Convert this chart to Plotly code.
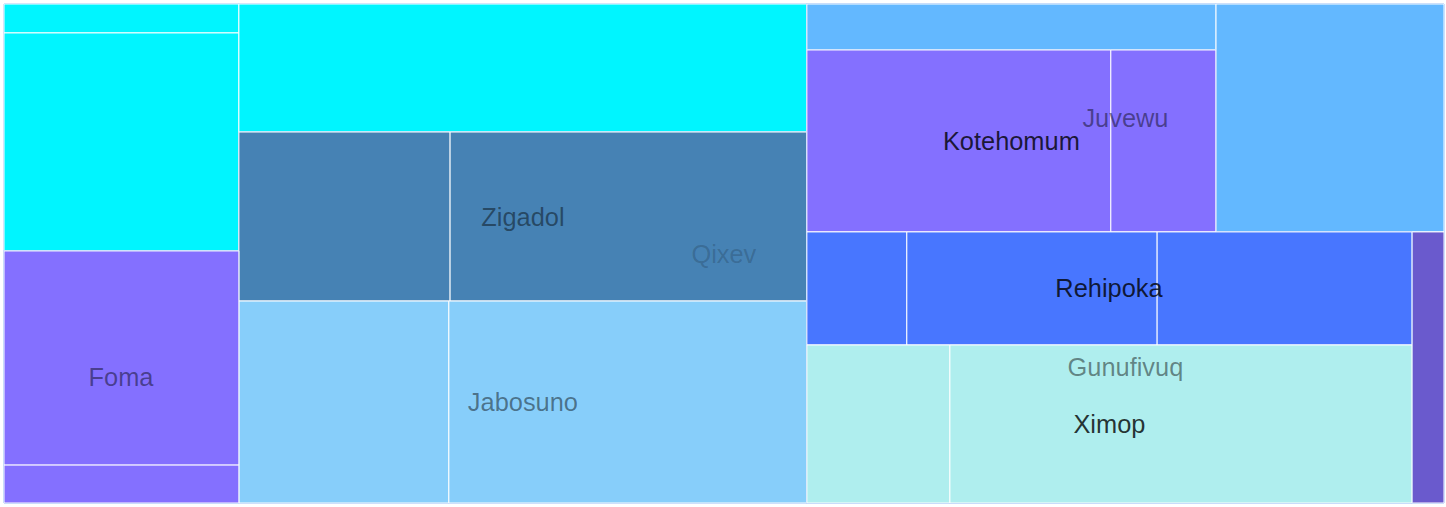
import plotly.graph_objects as go

# ---------------- data ----------------
# hierarchy (ids / parents); unnamed ids are layout groups without a label
ids = ["Qixev", "left", "middle", "right",
       "r1", "r2", "Foma", "Foma/", "Foma-1", "Foma-2",
       "r3", "Zigadol", "Zigadol-1", "Zigadol-2",
       "Jabosuno", "Jabosuno-1", "Jabosuno-2",
       "Juvewu", "Juvewu/", "Juvewu-1", "Kotehomum", "Kotehomum-1", "Kotehomum-2", "Juvewu-2",
       "Gunufivuq", "Gunufivuq/", "Rehipoka", "Rehipoka-1", "Rehipoka-2", "Rehipoka-3",
       "Ximop", "Ximop-1", "Ximop-2", "Gunufivuq-1"]
parents = ["", "Qixev", "Qixev", "Qixev",
           "left", "left", "left", "Foma", "Foma/", "Foma/",
           "middle", "middle", "Zigadol", "Zigadol",
           "middle", "Jabosuno", "Jabosuno",
           "right", "Juvewu", "Juvewu/", "Juvewu/", "Kotehomum", "Kotehomum", "Juvewu",
           "right", "Gunufivuq", "Gunufivuq/", "Rehipoka", "Rehipoka", "Rehipoka",
           "Gunufivuq/", "Ximop", "Ximop", "Gunufivuq"]
values = [0, 0, 0, 0,
          68, 512, 0, 0, 503, 89,
          727, 0, 357, 603,
          0, 424, 723,
          0, 0, 188, 0, 553, 191, 520,
          0, 0, 0, 113, 283, 288,
          0, 226, 730, 87]

root_label = ["Qixev"]
top_labels = ["Foma", "Zigadol", "Jabosuno", "Juvewu", "Gunufivuq"]
sub_labels = ["Kotehomum", "Rehipoka", "Ximop"]

group_colors = {"Qixev": "#00F5FF", "Foma": "#8470FF", "Zigadol": "#4682B4",
                "Jabosuno": "#87CEFA", "Juvewu": "#63B8FF", "Kotehomum": "#8470FF",
                "Rehipoka": "#4876FF", "Ximop": "#AFEEEE", "Gunufivuq": "#6A5ACD"}

# ---------------- derived ----------------
named = set(root_label + top_labels + sub_labels)
parent_of = dict(zip(ids, parents))
labels = [i if i in named else "" for i in ids]
has_children = set(p for p in parents if p)


def named_ancestor(i):
    while i not in named:
        i = parent_of[i]
    return i


fill = [group_colors[named_ancestor(i)] for i in ids]
line_col = ["#FFFFFF" if i not in has_children else "#8DB6F5" for i in ids]
line_w = [1 for _ in ids]

FONT = "Liberation Sans, Arial, sans-serif"
clear = ["rgba(0,0,0,0)"] * len(ids)


def treemap(text, colors, lcol, lw, maxdepth=-1, tcolor="rgba(0,0,0,0.8)", hover=True):
    return go.Treemap(
        ids=ids, labels=labels, parents=parents, values=values,
        branchvalues="remainder", sort=False, maxdepth=maxdepth,
        tiling=dict(packing="slice-dice", pad=0),
        marker=dict(colors=colors, line=dict(color=lcol, width=lw),
                    pad=dict(t=0, l=0, r=0, b=0), depthfade=False),
        pathbar=dict(visible=False),
        text=text, textinfo="text", texttemplate="%{text}",
        textposition="middle center",
        textfont=dict(family=FONT, size=25.4, color=tcolor),
        hoverinfo="label+value" if hover else "skip",
        domain=dict(x=[0, 1], y=[0, 1]),
    )


main = treemap(["" for _ in ids], fill, line_col, line_w)
lab0 = treemap([l if l in root_label else "" for l in labels], clear, clear, 0,
               maxdepth=1, tcolor="rgba(0,0,0,0.18)", hover=False)
lab2 = treemap([l if l in top_labels else "" for l in labels], clear, clear, 0,
               maxdepth=3, tcolor="rgba(0,0,0,0.45)", hover=False)
lab4 = treemap([l if l in sub_labels else "" for l in labels], clear, clear, 0,
               maxdepth=5, tcolor="rgba(0,0,0,0.8)", hover=False)

fig = go.Figure([main, lab0, lab2, lab4])
fig.update_layout(width=1446, height=507, margin=dict(l=4, r=2, t=4, b=4),
                  paper_bgcolor="white", showlegend=False)
fig.write_html("out.html")
